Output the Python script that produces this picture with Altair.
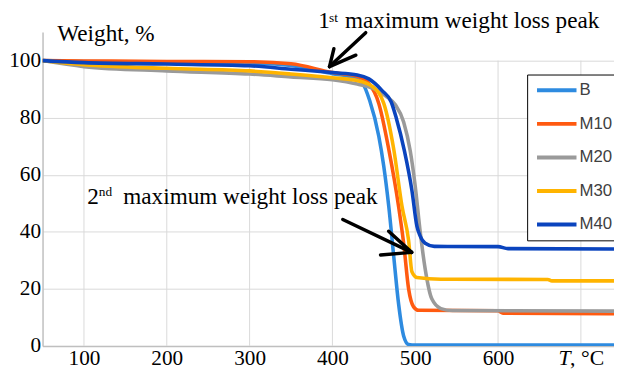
import altair as alt
import pandas as pd

# ---------------- data ----------------
series = ["B", "M10", "M20", "M30", "M40"]
colors = ["#2E8BE0", "#FF5A10", "#9A9A9A", "#FFB400", "#0A44BE"]

B_T = [50, 100, 200, 300, 350, 400, 425, 436, 445, 456, 462, 468, 474, 480, 486, 492, 500, 740]
B_W = [100, 99.7, 99.4, 99.1, 98.3, 95.4, 94.0, 92.2, 86, 73.5, 63, 49, 31.5, 14.5, 3.5, 0.5, 0.3, 0.3]

M10_T = [50, 100, 200, 300, 350, 400, 430, 444, 456, 468, 480, 486, 492, 498, 504, 600, 606, 740]
M10_W = [100, 99.9, 99.7, 99.6, 98.9, 95.8, 94.5, 92, 85, 69, 48.7, 36, 20, 13.7, 12.5, 12.3, 11.5, 11.3]

M20_T = [50, 100, 200, 300, 350, 400, 430, 450, 465, 476, 486, 494, 500, 506, 512, 520, 531, 545, 740]
M20_W = [100, 97.9, 96.4, 95.3, 94.3, 93.3, 91.8, 90.2, 87.5, 84.5, 78.5, 68.3, 56, 40, 27, 16.5, 13.1, 12.4, 12.2]

M30_T = [50, 100, 200, 300, 350, 400, 430, 448, 462, 474, 484, 492, 496, 502, 531, 660, 665, 740]
M30_W = [100, 98.6, 97.3, 96.4, 95.3, 94.0, 93.0, 91, 85, 69, 49, 37, 26, 24, 23.4, 23.3, 22.8, 22.8]

M40_T = [50, 100, 200, 300, 350, 400, 430, 444, 460, 471, 477, 487, 496, 502, 506, 512, 523, 600, 612, 740]
M40_W = [100, 99.3, 98.8, 98.2, 97, 95.8, 95, 93.6, 89.5, 85.5, 80, 68.3, 54.5, 42, 38.5, 36, 34.9, 34.8, 34.1, 34.0]

x_ticks = [100, 200, 300, 400, 500, 600, 700]
y_ticks = [0, 20, 40, 60, 80, 100]

# annotation arrows (data coordinates: temperature, weight)
arrow_x = [440.2, 396.5, 396.5, 412.5, 495.7, 495.7]
arrow_y = [109.8, 97.9, 97.9, 44.3, 32.8, 32.8]
arrow_x2 = [396.5, 401.8, 428.3, 495.7, 467.9, 458.1]
arrow_y2 = [97.9, 104.2, 101.9, 32.8, 40.2, 31.9]

# ---------------- tables ----------------
rows = []
for name, ts, ws in [("B", B_T, B_W), ("M10", M10_T, M10_W), ("M20", M20_T, M20_W),
                     ("M30", M30_T, M30_W), ("M40", M40_T, M40_W)]:
    for i, (t, w) in enumerate(zip(ts, ws)):
        rows.append({"series": name, "T": t, "W": w, "ord": i})
df = pd.DataFrame(rows)

arrows = pd.DataFrame({"x": arrow_x, "y": arrow_y, "x2": arrow_x2, "y2": arrow_y2})
grid_df = pd.DataFrame({"T": x_ticks})

big = pd.DataFrame({
    "x": [67.8, 383.0, 415.2, 104.0, 147.5],
    "y": [106.9, 111.4, 111.4, 49.8, 49.8],
    "t": ["Weight, %", "1", "maximum weight loss peak", "2", "maximum weight loss peak"],
})
sup = pd.DataFrame({"x": [396.0, 118.0], "y": [113.6, 52.6], "t": ["st", "nd"]})
unit_it = pd.DataFrame({"x": [673.0], "y": [-6.6], "t": ["T"]})
unit_rm = pd.DataFrame({"x": [687.0], "y": [-6.6], "t": [", \u00b0C"]})

SERIF = "Liberation Serif"
xscale = alt.Scale(domain=[50, 740], nice=False, zero=False)
yscale = alt.Scale(domain=[0, 110], nice=False, zero=True)

grid = alt.Chart(grid_df).mark_rule(color="#d9d9d9", strokeWidth=1).encode(
    x=alt.X("T:Q", scale=xscale),
    y=alt.datum(0), y2=alt.datum(100),
)

lines = alt.Chart(df).mark_line(strokeWidth=3.6, interpolate="monotone", clip=True).encode(
    x=alt.X("T:Q", scale=xscale, axis=alt.Axis(
        values=x_ticks, labelExpr="datum.value == 700 ? '' : datum.label",
        grid=False, ticks=False, domainColor="#bfbfbf", domainWidth=1.5,
        labelFont=SERIF, labelFontSize=21.5, labelColor="black", labelPadding=2,
        labelFlush=False, title=None)),
    y=alt.Y("W:Q", scale=yscale, axis=alt.Axis(
        values=y_ticks, grid=True, gridColor="#d9d9d9", ticks=False,
        domainColor="#bfbfbf", domainWidth=1.5,
        labelFont=SERIF, labelFontSize=21.5, labelColor="black", labelPadding=2,
        title=None)),
    color=alt.Color("series:N", scale=alt.Scale(domain=series, range=colors),
                    sort=series,
                    legend=alt.Legend(orient="none", legendX=491, legendY=43, title=None,
                                      symbolType="stroke", symbolSize=1600,
                                      symbolStrokeWidth=4, clipHeight=16, rowPadding=17,
                                      labelFontSize=17, labelFont="Liberation Sans",
                                      labelColor="#404040", strokeColor="black",
                                      fillColor="white", padding=8, labelOffset=1)),
    order="ord:Q",
)

arrow_marks = alt.Chart(arrows).mark_rule(color="black", strokeWidth=3.5, strokeCap="round").encode(
    x="x:Q", y="y:Q", x2="x2:Q", y2="y2:Q")

big_text = alt.Chart(big).mark_text(font=SERIF, fontSize=23.5, align="left", baseline="alphabetic",
                                     color="black", clip=False).encode(x="x:Q", y="y:Q", text="t:N")
sup_text = alt.Chart(sup).mark_text(font=SERIF, fontSize=13.5, align="left", baseline="alphabetic",
                                     color="black").encode(x="x:Q", y="y:Q", text="t:N")
it_text = alt.Chart(unit_it).mark_text(font=SERIF, fontSize=22, fontStyle="italic", align="left",
                                        baseline="alphabetic", color="black").encode(
    x="x:Q", y="y:Q", text="t:N")
rm_text = alt.Chart(unit_rm).mark_text(font=SERIF, fontSize=22, align="left",
                                        baseline="alphabetic", color="black").encode(
    x="x:Q", y="y:Q", text="t:N")

chart = alt.layer(grid, lines, arrow_marks, big_text, sup_text, it_text, rm_text).properties(
    width=579, height=318,
    padding={"left": 35, "top": 22, "right": 0, "bottom": 24},
    autosize=alt.AutoSizeParams(type="none"),
    background="white",
).configure_view(stroke=None)

chart.save("out.html", embed_options={"renderer": "svg", "actions": False})
